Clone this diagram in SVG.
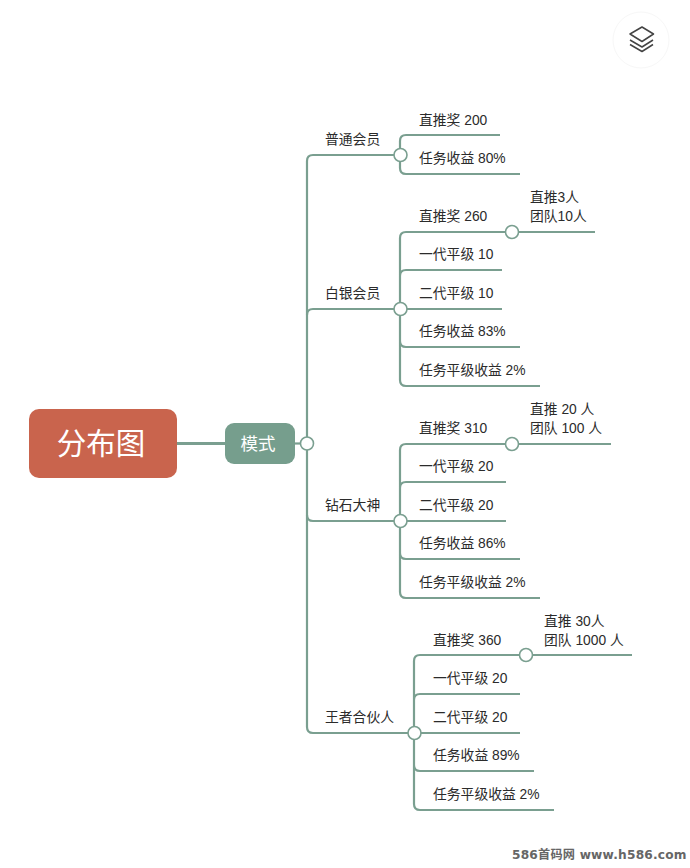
<svg xmlns="http://www.w3.org/2000/svg" width="690" height="868" viewBox="0 0 690 868">
<style>
text{font-family:"Liberation Sans","Noto Sans CJK SC",sans-serif;font-size:13.800px;fill:#2b2b2b}
.c{fill:none;stroke:#7a9f90;stroke-width:2.200}
.d{fill:#fff;stroke:#7a9f90;stroke-width:1.600}
.w{fill:#fff;text-anchor:middle}
</style>
<rect width="690" height="868" fill="#fff"/>
<g id="connectors">
<path class="c" style="stroke-width:3" d="M177 443.500H225"/>
<path class="c" d="M295 443.500H307"/>
<path class="c" d="M400 155H313Q307 155 307 161V727Q307 733 313 733H414"/>
<path class="c" d="M307 315Q307 309 313 309H400M307 515Q307 521 313 521H400"/>
<path class="c" d="M500 135H406Q400 135 400 141V168Q400 174 406 174H520"/>
<path class="c" d="M595 232H406Q400 232 400 238V380Q400 386 406 386H540M502 270H406Q400 270 400 276M400 303Q400 309 406 309H502M400 341Q400 347 406 347H520"/>
<path class="c" d="M611 444H406Q400 444 400 450V592Q400 598 406 598H540M506 482H406Q400 482 400 488M400 515Q400 521 406 521H506M400 553Q400 559 406 559H520"/>
<path class="c" d="M632 655H420Q414 655 414 661V804Q414 810 420 810H554M520 694H420Q414 694 414 700M414 727Q414 733 420 733H520M414 765Q414 771 420 771H534"/>
</g>
<g id="root"><rect x="29" y="409" width="148" height="69" rx="10" fill="#c9644d"/><text class="w" x="101" y="454" style="font-size:29.500px">分布图</text></g>
<g id="mode"><rect x="225" y="423" width="70" height="41" rx="9" fill="#769e8d"/><text class="w" x="258" y="450" style="font-size:17.500px">模式</text><circle class="d" cx="307" cy="443.500" r="6.500"/></g>
<g id="n1"><text x="325" y="144">普通会员</text><circle class="d" cx="400.500" cy="155" r="6.500"/></g>
<g id="n1a"><text x="419" y="125">直推奖 200</text></g>
<g id="n1b"><text x="419" y="163">任务收益 80%</text></g>
<g id="n2"><text x="325" y="298">白银会员</text><circle class="d" cx="400.500" cy="309" r="6.500"/></g>
<g id="n2a"><text x="419" y="221">直推奖 260</text><circle class="d" cx="512" cy="232" r="6.500"/></g>
<g id="n2a1"><text x="530" y="202">直推3人</text><text x="530" y="221">团队10人</text></g>
<g id="n2b"><text x="419" y="259">一代平级 10</text></g>
<g id="n2c"><text x="419" y="298">二代平级 10</text></g>
<g id="n2d"><text x="419" y="336">任务收益 83%</text></g>
<g id="n2e"><text x="419" y="375">任务平级收益 2%</text></g>
<g id="n3"><text x="325" y="510">钻石大神</text><circle class="d" cx="400.500" cy="521" r="6.500"/></g>
<g id="n3a"><text x="419" y="433">直推奖 310</text><circle class="d" cx="512" cy="444" r="6.500"/></g>
<g id="n3a1"><text x="530" y="414">直推 20 人</text><text x="530" y="433">团队 100 人</text></g>
<g id="n3b"><text x="419" y="471">一代平级 20</text></g>
<g id="n3c"><text x="419" y="510">二代平级 20</text></g>
<g id="n3d"><text x="419" y="548">任务收益 86%</text></g>
<g id="n3e"><text x="419" y="587">任务平级收益 2%</text></g>
<g id="n4"><text x="325" y="722">王者合伙人</text><circle class="d" cx="414.500" cy="733" r="6.500"/></g>
<g id="n4a"><text x="433" y="645">直推奖 360</text><circle class="d" cx="526" cy="655" r="6.500"/></g>
<g id="n4a1"><text x="544" y="626">直推 30人</text><text x="544" y="645">团队 1000 人</text></g>
<g id="n4b"><text x="433" y="683">一代平级 20</text></g>
<g id="n4c"><text x="433" y="722">二代平级 20</text></g>
<g id="n4d"><text x="433" y="760">任务收益 89%</text></g>
<g id="n4e"><text x="433" y="799">任务平级收益 2%</text></g>
<g id="layers">
<circle cx="641" cy="40" r="28" fill="#fff" stroke="#f7f7f7" stroke-width="1"/>
<path fill="#fff" stroke="#444" stroke-width="1.500" stroke-linejoin="round" d="M630 44.500 642 51.500 653 44.500M630 40 642 47 653 40M642 27 653.500 34 642 41.500 630 34Z"/>
</g>
<text id="footer" x="512" y="859" style="font-size:12.200px;font-weight:bold;fill:#666;letter-spacing:.2px;font-family:'DejaVu Sans','Noto Sans CJK SC',sans-serif">586首码网 www.h586.com</text>
</svg>
